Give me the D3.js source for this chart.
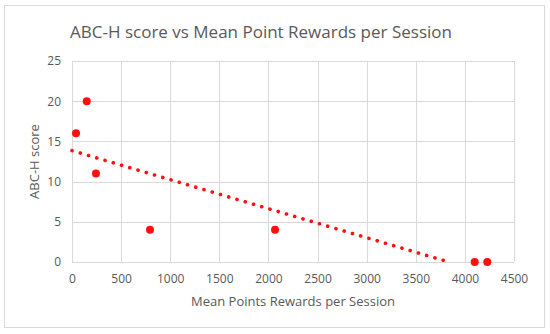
<!DOCTYPE html>
<html>
<head>
<meta charset="utf-8">
<script src="https://cdn.jsdelivr.net/npm/d3@7"></script>
<style>
  body { margin: 0; background: #fff; }
  text { font-family: "Open Sans", "Noto Sans", sans-serif; fill: #595959; }
</style>
</head>
<body>
<div id="chart"></div>
<script>
// data
var pointsX = [41, 150, 244, 794, 2067, 4100, 4228];
var scoresY = [16, 20, 11, 4, 4, 0, 0];
var xTicks = [0, 500, 1000, 1500, 2000, 2500, 3000, 3500, 4000, 4500];
var yTicks = [0, 5, 10, 15, 20, 25];

var svgWidth = 550, svgHeight = 334;
var margin = {top: 61, right: 36, bottom: 72, left: 72};
var width = svgWidth - margin.left - margin.right;
var height = svgHeight - margin.top - margin.bottom;

var svg = d3.select("#chart").append("svg")
  .attr("width", svgWidth)
  .attr("height", svgHeight);

// outer chart border
svg.append("rect")
  .attr("x", 4.5).attr("y", 5.5)
  .attr("width", 540).attr("height", 322)
  .attr("fill", "#fff")
  .attr("stroke", "#d9d9d9");

var chartGroup = svg.append("g")
  .attr("transform", `translate(${margin.left}, ${margin.top})`);

var xScale = d3.scaleLinear().domain([0, 4500]).range([0, width]);
var yScale = d3.scaleLinear().domain([0, 25]).range([height, 0]);

// gridlines
chartGroup.selectAll(".vgrid").data(xTicks).enter().append("line")
  .attr("x1", d => Math.round(xScale(d)) + 0.5)
  .attr("x2", d => Math.round(xScale(d)) + 0.5)
  .attr("y1", 0).attr("y2", height)
  .attr("stroke", "#d9d9d9");
chartGroup.selectAll(".hgrid").data(yTicks).enter().append("line")
  .attr("y1", d => Math.round(yScale(d)) + 0.5)
  .attr("y2", d => Math.round(yScale(d)) + 0.5)
  .attr("x1", 0).attr("x2", width)
  .attr("stroke", "#d9d9d9");

// axes (labels only, lines come from grid)
var bottomAxis = d3.axisBottom(xScale).tickValues(xTicks).tickFormat(d3.format("d")).tickSize(0).tickPadding(12);
var leftAxis = d3.axisLeft(yScale).tickValues(yTicks).tickFormat(d3.format("d")).tickSize(0).tickPadding(11);

var gx = chartGroup.append("g")
  .attr("transform", `translate(0, ${height})`)
  .call(bottomAxis);
var gy = chartGroup.append("g").call(leftAxis);
[gx, gy].forEach(function(g) {
  g.select(".domain").remove();
  g.selectAll("text")
    .style("font-family", "\"Open Sans\", sans-serif")
    .style("font-size", "12px")
    .attr("fill", "#595959");
});

// linear trendline (least squares of the points)
var n = pointsX.length;
var mx = d3.mean(pointsX), my = d3.mean(scoresY);
var sxy = 0, sxx = 0;
for (var i = 0; i < n; i++) {
  sxy += (pointsX[i] - mx) * (scoresY[i] - my);
  sxx += (pointsX[i] - mx) * (pointsX[i] - mx);
}
var slope = sxy / sxx;
var intercept = my - slope * mx;
var xEnd = Math.min(4500, -intercept / slope);

chartGroup.append("line")
  .attr("x1", xScale(0)).attr("y1", yScale(intercept))
  .attr("x2", xScale(xEnd)).attr("y2", yScale(intercept + slope * xEnd))
  .attr("stroke", "#ff1010")
  .attr("stroke-width", 3.6)
  .attr("stroke-linecap", "round")
  .attr("stroke-dasharray", "0.1,8.5");

// points
var data = pointsX.map((x, i) => ({x: x, y: scoresY[i]}));
chartGroup.selectAll("circle").data(data).enter().append("circle")
  .attr("cx", d => xScale(d.x))
  .attr("cy", d => yScale(d.y))
  .attr("r", 4)
  .attr("fill", "#ff1010");

// titles
svg.append("text")
  .attr("x", 261).attr("y", 38)
  .attr("text-anchor", "middle")
  .style("font-size", "17px")
  .text("ABC-H score vs Mean Point Rewards per Session");

svg.append("text")
  .attr("x", margin.left + width / 2).attr("y", 306)
  .attr("text-anchor", "middle")
  .style("font-size", "13px")
  .text("Mean Points Rewards per Session");

svg.append("text")
  .attr("transform", "rotate(-90)")
  .attr("x", -(margin.top + height / 2)).attr("y", 39)
  .attr("text-anchor", "middle")
  .style("font-size", "13px")
  .text("ABC-H score");
</script>
</body>
</html>
